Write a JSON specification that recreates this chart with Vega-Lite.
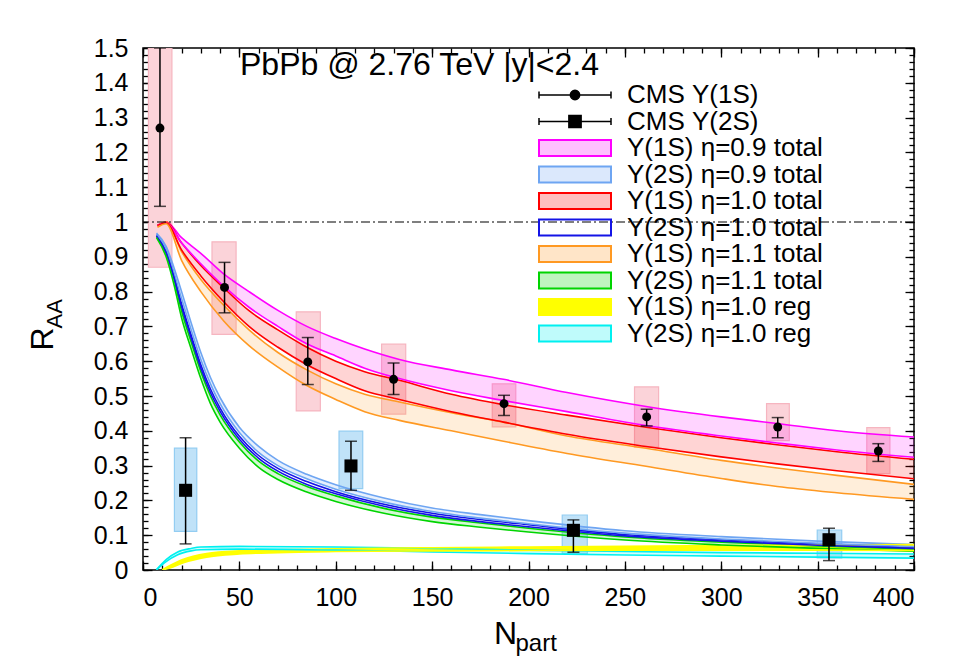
{
"$schema": "https://vega.github.io/schema/vega-lite/v6.json",
"width": 771, "height": 522,
"autosize": {"type": "none"},
"padding": {"left": 143, "top": 48, "right": 48, "bottom": 91},
"background": "white",
"config": {
  "view": {"stroke": "black", "strokeWidth": 1.5},
  "font": "Liberation Sans",
  "axis": {"domain": false, "grid": false, "tickColor": "black", "tickWidth": 1.3, "labelColor": "black", "titleColor": "black", "labelFont": "Liberation Sans", "titleFont": "Liberation Sans", "titleFontWeight": "normal"}
},
"title": {"text": "PbPb @ 2.76 TeV |y|<2.4", "anchor": "start", "frame": "group", "dx": 97, "dy": 43, "offset": -28, "fontSize": 32, "fontWeight": "normal", "font": "Liberation Sans", "color": "black", "baseline": "alphabetic"},
"datasets": {
"cms": [
{"s":"CMS Υ(1S)","x":8.8,"y":1.27,"elo":1.045,"ehi":1.5,"bx0":2.8,"bx1":15,"by0":0.87,"by1":1.5},
{"s":"CMS Υ(1S)","x":42.3,"y":0.812,"elo":0.739,"ehi":0.884,"bx0":35.8,"bx1":48.3,"by0":0.677,"by1":0.943},
{"s":"CMS Υ(1S)","x":85.5,"y":0.598,"elo":0.533,"ehi":0.668,"bx0":79.5,"bx1":92,"by0":0.457,"by1":0.742},
{"s":"CMS Υ(1S)","x":130,"y":0.548,"elo":0.504,"ehi":0.595,"bx0":123.8,"bx1":136.3,"by0":0.448,"by1":0.649},
{"s":"CMS Υ(1S)","x":187.3,"y":0.478,"elo":0.444,"ehi":0.502,"bx0":181.2,"bx1":193.4,"by0":0.411,"by1":0.535},
{"s":"CMS Υ(1S)","x":261.3,"y":0.44,"elo":0.414,"ehi":0.462,"bx0":255,"bx1":267.5,"by0":0.353,"by1":0.526},
{"s":"CMS Υ(1S)","x":329.3,"y":0.411,"elo":0.38,"ehi":0.438,"bx0":323.5,"bx1":335.3,"by0":0.372,"by1":0.478},
{"s":"CMS Υ(1S)","x":381.5,"y":0.342,"elo":0.312,"ehi":0.363,"bx0":375.5,"bx1":387.5,"by0":0.277,"by1":0.409},
{"s":"CMS Υ(2S)","x":22.1,"y":0.229,"elo":0.075,"ehi":0.38,"bx0":16.3,"bx1":27.9,"by0":0.111,"by1":0.35},
{"s":"CMS Υ(2S)","x":107.9,"y":0.299,"elo":0.229,"ehi":0.37,"bx0":101.7,"bx1":114,"by0":0.234,"by1":0.399},
{"s":"CMS Υ(2S)","x":223.3,"y":0.114,"elo":0.051,"ehi":0.144,"bx0":217.5,"bx1":230.5,"by0":0.047,"by1":0.158},
{"s":"CMS Υ(2S)","x":355.9,"y":0.087,"elo":0.027,"ehi":0.12,"bx0":349.8,"bx1":362.5,"by0":0.035,"by1":0.115}
],
"bands": [
{"s":"Υ(1S) η=0.9 total","x":7.5,"hi":0.99,"lo":0.99},
{"s":"Υ(1S) η=0.9 total","x":12,"hi":1.0,"lo":0.998},
{"s":"Υ(1S) η=0.9 total","x":20,"hi":0.955,"lo":0.94},
{"s":"Υ(1S) η=0.9 total","x":30,"hi":0.91,"lo":0.88},
{"s":"Υ(1S) η=0.9 total","x":42,"hi":0.85,"lo":0.815},
{"s":"Υ(1S) η=0.9 total","x":55,"hi":0.8,"lo":0.755},
{"s":"Υ(1S) η=0.9 total","x":70,"hi":0.746,"lo":0.7},
{"s":"Υ(1S) η=0.9 total","x":85,"hi":0.7,"lo":0.65},
{"s":"Υ(1S) η=0.9 total","x":100,"hi":0.665,"lo":0.615},
{"s":"Υ(1S) η=0.9 total","x":115,"hi":0.635,"lo":0.58},
{"s":"Υ(1S) η=0.9 total","x":133,"hi":0.605,"lo":0.55},
{"s":"Υ(1S) η=0.9 total","x":160,"hi":0.575,"lo":0.515},
{"s":"Υ(1S) η=0.9 total","x":187,"hi":0.548,"lo":0.487},
{"s":"Υ(1S) η=0.9 total","x":220,"hi":0.51,"lo":0.455},
{"s":"Υ(1S) η=0.9 total","x":261,"hi":0.47,"lo":0.415},
{"s":"Υ(1S) η=0.9 total","x":300,"hi":0.44,"lo":0.385},
{"s":"Υ(1S) η=0.9 total","x":329,"hi":0.421,"lo":0.365},
{"s":"Υ(1S) η=0.9 total","x":360,"hi":0.4,"lo":0.345},
{"s":"Υ(1S) η=0.9 total","x":400,"hi":0.382,"lo":0.324},
{"s":"Υ(1S) η=1.0 total","x":7.5,"hi":0.99,"lo":0.99},
{"s":"Υ(1S) η=1.0 total","x":12,"hi":1.0,"lo":0.997},
{"s":"Υ(1S) η=1.0 total","x":20,"hi":0.94,"lo":0.92},
{"s":"Υ(1S) η=1.0 total","x":30,"hi":0.875,"lo":0.845},
{"s":"Υ(1S) η=1.0 total","x":42,"hi":0.81,"lo":0.77},
{"s":"Υ(1S) η=1.0 total","x":55,"hi":0.745,"lo":0.7},
{"s":"Υ(1S) η=1.0 total","x":70,"hi":0.69,"lo":0.64},
{"s":"Υ(1S) η=1.0 total","x":85,"hi":0.64,"lo":0.59},
{"s":"Υ(1S) η=1.0 total","x":100,"hi":0.6,"lo":0.55},
{"s":"Υ(1S) η=1.0 total","x":115,"hi":0.57,"lo":0.515},
{"s":"Υ(1S) η=1.0 total","x":133,"hi":0.545,"lo":0.49},
{"s":"Υ(1S) η=1.0 total","x":160,"hi":0.505,"lo":0.455},
{"s":"Υ(1S) η=1.0 total","x":187,"hi":0.475,"lo":0.425},
{"s":"Υ(1S) η=1.0 total","x":220,"hi":0.445,"lo":0.39},
{"s":"Υ(1S) η=1.0 total","x":261,"hi":0.41,"lo":0.355},
{"s":"Υ(1S) η=1.0 total","x":300,"hi":0.38,"lo":0.325},
{"s":"Υ(1S) η=1.0 total","x":329,"hi":0.36,"lo":0.305},
{"s":"Υ(1S) η=1.0 total","x":360,"hi":0.34,"lo":0.285},
{"s":"Υ(1S) η=1.0 total","x":400,"hi":0.318,"lo":0.262},
{"s":"Υ(1S) η=1.1 total","x":7.5,"hi":0.99,"lo":0.985},
{"s":"Υ(1S) η=1.1 total","x":12,"hi":1.0,"lo":0.995},
{"s":"Υ(1S) η=1.1 total","x":20,"hi":0.915,"lo":0.89},
{"s":"Υ(1S) η=1.1 total","x":30,"hi":0.835,"lo":0.8},
{"s":"Υ(1S) η=1.1 total","x":42,"hi":0.76,"lo":0.715},
{"s":"Υ(1S) η=1.1 total","x":55,"hi":0.69,"lo":0.645},
{"s":"Υ(1S) η=1.1 total","x":70,"hi":0.625,"lo":0.583},
{"s":"Υ(1S) η=1.1 total","x":85,"hi":0.575,"lo":0.53},
{"s":"Υ(1S) η=1.1 total","x":100,"hi":0.535,"lo":0.49},
{"s":"Υ(1S) η=1.1 total","x":115,"hi":0.505,"lo":0.455},
{"s":"Υ(1S) η=1.1 total","x":133,"hi":0.483,"lo":0.43},
{"s":"Υ(1S) η=1.1 total","x":160,"hi":0.452,"lo":0.4},
{"s":"Υ(1S) η=1.1 total","x":187,"hi":0.425,"lo":0.37},
{"s":"Υ(1S) η=1.1 total","x":220,"hi":0.385,"lo":0.335},
{"s":"Υ(1S) η=1.1 total","x":261,"hi":0.35,"lo":0.298},
{"s":"Υ(1S) η=1.1 total","x":300,"hi":0.315,"lo":0.263},
{"s":"Υ(1S) η=1.1 total","x":329,"hi":0.293,"lo":0.24},
{"s":"Υ(1S) η=1.1 total","x":360,"hi":0.272,"lo":0.222},
{"s":"Υ(1S) η=1.1 total","x":400,"hi":0.246,"lo":0.203},
{"s":"Υ(2S) η=0.9 total","x":7,"hi":0.968,"lo":0.964},
{"s":"Υ(2S) η=0.9 total","x":12,"hi":0.93,"lo":0.922},
{"s":"Υ(2S) η=0.9 total","x":16,"hi":0.87,"lo":0.855},
{"s":"Υ(2S) η=0.9 total","x":20,"hi":0.8,"lo":0.78},
{"s":"Υ(2S) η=0.9 total","x":25,"hi":0.71,"lo":0.69},
{"s":"Υ(2S) η=0.9 total","x":30,"hi":0.625,"lo":0.605},
{"s":"Υ(2S) η=0.9 total","x":35,"hi":0.553,"lo":0.535},
{"s":"Υ(2S) η=0.9 total","x":40,"hi":0.495,"lo":0.478},
{"s":"Υ(2S) η=0.9 total","x":50,"hi":0.41,"lo":0.395},
{"s":"Υ(2S) η=0.9 total","x":60,"hi":0.355,"lo":0.338},
{"s":"Υ(2S) η=0.9 total","x":70,"hi":0.315,"lo":0.3},
{"s":"Υ(2S) η=0.9 total","x":85,"hi":0.275,"lo":0.262},
{"s":"Υ(2S) η=0.9 total","x":100,"hi":0.245,"lo":0.232},
{"s":"Υ(2S) η=0.9 total","x":125,"hi":0.207,"lo":0.195},
{"s":"Υ(2S) η=0.9 total","x":150,"hi":0.178,"lo":0.168},
{"s":"Υ(2S) η=0.9 total","x":175,"hi":0.159,"lo":0.149},
{"s":"Υ(2S) η=0.9 total","x":200,"hi":0.142,"lo":0.133},
{"s":"Υ(2S) η=0.9 total","x":250,"hi":0.113,"lo":0.106},
{"s":"Υ(2S) η=0.9 total","x":300,"hi":0.096,"lo":0.089},
{"s":"Υ(2S) η=0.9 total","x":350,"hi":0.083,"lo":0.077},
{"s":"Υ(2S) η=0.9 total","x":400,"hi":0.073,"lo":0.067},
{"s":"Υ(2S) η=1.0 total","x":7,"hi":0.963,"lo":0.96},
{"s":"Υ(2S) η=1.0 total","x":12,"hi":0.918,"lo":0.912},
{"s":"Υ(2S) η=1.0 total","x":16,"hi":0.85,"lo":0.842},
{"s":"Υ(2S) η=1.0 total","x":20,"hi":0.765,"lo":0.757},
{"s":"Υ(2S) η=1.0 total","x":25,"hi":0.675,"lo":0.666},
{"s":"Υ(2S) η=1.0 total","x":30,"hi":0.59,"lo":0.58},
{"s":"Υ(2S) η=1.0 total","x":35,"hi":0.52,"lo":0.51},
{"s":"Υ(2S) η=1.0 total","x":40,"hi":0.465,"lo":0.456},
{"s":"Υ(2S) η=1.0 total","x":50,"hi":0.384,"lo":0.376},
{"s":"Υ(2S) η=1.0 total","x":60,"hi":0.329,"lo":0.321},
{"s":"Υ(2S) η=1.0 total","x":70,"hi":0.292,"lo":0.284},
{"s":"Υ(2S) η=1.0 total","x":85,"hi":0.254,"lo":0.246},
{"s":"Υ(2S) η=1.0 total","x":100,"hi":0.225,"lo":0.219},
{"s":"Υ(2S) η=1.0 total","x":125,"hi":0.189,"lo":0.183},
{"s":"Υ(2S) η=1.0 total","x":150,"hi":0.163,"lo":0.157},
{"s":"Υ(2S) η=1.0 total","x":175,"hi":0.145,"lo":0.139},
{"s":"Υ(2S) η=1.0 total","x":200,"hi":0.13,"lo":0.124},
{"s":"Υ(2S) η=1.0 total","x":250,"hi":0.102,"lo":0.098},
{"s":"Υ(2S) η=1.0 total","x":300,"hi":0.087,"lo":0.083},
{"s":"Υ(2S) η=1.0 total","x":350,"hi":0.075,"lo":0.071},
{"s":"Υ(2S) η=1.0 total","x":400,"hi":0.066,"lo":0.062},
{"s":"Υ(2S) η=1.1 total","x":7,"hi":0.96,"lo":0.955},
{"s":"Υ(2S) η=1.1 total","x":12,"hi":0.91,"lo":0.9},
{"s":"Υ(2S) η=1.1 total","x":16,"hi":0.838,"lo":0.822},
{"s":"Υ(2S) η=1.1 total","x":20,"hi":0.745,"lo":0.725},
{"s":"Υ(2S) η=1.1 total","x":25,"hi":0.655,"lo":0.635},
{"s":"Υ(2S) η=1.1 total","x":30,"hi":0.57,"lo":0.55},
{"s":"Υ(2S) η=1.1 total","x":35,"hi":0.5,"lo":0.478},
{"s":"Υ(2S) η=1.1 total","x":40,"hi":0.446,"lo":0.425},
{"s":"Υ(2S) η=1.1 total","x":50,"hi":0.368,"lo":0.35},
{"s":"Υ(2S) η=1.1 total","x":60,"hi":0.313,"lo":0.295},
{"s":"Υ(2S) η=1.1 total","x":70,"hi":0.277,"lo":0.26},
{"s":"Υ(2S) η=1.1 total","x":85,"hi":0.24,"lo":0.224},
{"s":"Υ(2S) η=1.1 total","x":100,"hi":0.213,"lo":0.197},
{"s":"Υ(2S) η=1.1 total","x":125,"hi":0.177,"lo":0.163},
{"s":"Υ(2S) η=1.1 total","x":150,"hi":0.152,"lo":0.139},
{"s":"Υ(2S) η=1.1 total","x":175,"hi":0.135,"lo":0.123},
{"s":"Υ(2S) η=1.1 total","x":200,"hi":0.12,"lo":0.109},
{"s":"Υ(2S) η=1.1 total","x":250,"hi":0.095,"lo":0.086},
{"s":"Υ(2S) η=1.1 total","x":300,"hi":0.08,"lo":0.072},
{"s":"Υ(2S) η=1.1 total","x":350,"hi":0.069,"lo":0.062},
{"s":"Υ(2S) η=1.1 total","x":400,"hi":0.06,"lo":0.054},
{"s":"Υ(2S) η=1.0 reg","x":7,"hi":0.001,"lo":0.0},
{"s":"Υ(2S) η=1.0 reg","x":12,"hi":0.03,"lo":0.024},
{"s":"Υ(2S) η=1.0 reg","x":18,"hi":0.052,"lo":0.044},
{"s":"Υ(2S) η=1.0 reg","x":25,"hi":0.062,"lo":0.055},
{"s":"Υ(2S) η=1.0 reg","x":30,"hi":0.066,"lo":0.058},
{"s":"Υ(2S) η=1.0 reg","x":50,"hi":0.068,"lo":0.06},
{"s":"Υ(2S) η=1.0 reg","x":100,"hi":0.066,"lo":0.057},
{"s":"Υ(2S) η=1.0 reg","x":150,"hi":0.062,"lo":0.052},
{"s":"Υ(2S) η=1.0 reg","x":200,"hi":0.057,"lo":0.047},
{"s":"Υ(2S) η=1.0 reg","x":250,"hi":0.053,"lo":0.043},
{"s":"Υ(2S) η=1.0 reg","x":300,"hi":0.05,"lo":0.04},
{"s":"Υ(2S) η=1.0 reg","x":350,"hi":0.048,"lo":0.037},
{"s":"Υ(2S) η=1.0 reg","x":400,"hi":0.046,"lo":0.034},
{"s":"Υ(1S) η=1.0 reg","x":10,"hi":0.001,"lo":0.0},
{"s":"Υ(1S) η=1.0 reg","x":14,"hi":0.013,"lo":0.006},
{"s":"Υ(1S) η=1.0 reg","x":21,"hi":0.031,"lo":0.021},
{"s":"Υ(1S) η=1.0 reg","x":33,"hi":0.047,"lo":0.037},
{"s":"Υ(1S) η=1.0 reg","x":50,"hi":0.055,"lo":0.046},
{"s":"Υ(1S) η=1.0 reg","x":70,"hi":0.058,"lo":0.05},
{"s":"Υ(1S) η=1.0 reg","x":100,"hi":0.061,"lo":0.053},
{"s":"Υ(1S) η=1.0 reg","x":150,"hi":0.064,"lo":0.055},
{"s":"Υ(1S) η=1.0 reg","x":200,"hi":0.066,"lo":0.056},
{"s":"Υ(1S) η=1.0 reg","x":250,"hi":0.068,"lo":0.057},
{"s":"Υ(1S) η=1.0 reg","x":300,"hi":0.07,"lo":0.057},
{"s":"Υ(1S) η=1.0 reg","x":350,"hi":0.072,"lo":0.057},
{"s":"Υ(1S) η=1.0 reg","x":400,"hi":0.073,"lo":0.056}
]
},
"resolve": {"axis": {"x": "independent", "y": "independent"}},
"layer": [
{
 "data": {"name": "cms"},
 "mark": {"type": "rect", "strokeWidth": 1.2, "clip": true},
 "encoding": {
  "x": {"field": "bx0", "type": "quantitative", "scale": {"domain": [0, 400], "nice": false, "zero": false}, "axis": null},
  "x2": {"field": "bx1"},
  "y": {"field": "by0", "type": "quantitative", "scale": {"domain": [0, 1.5], "nice": false, "zero": false}, "axis": null},
  "y2": {"field": "by1"},
  "fill": {"condition": {"test": "datum.s === 'CMS Υ(1S)'", "value": "#fbd3d9"}, "value": "#c0e2f8"},
  "stroke": {"condition": {"test": "datum.s === 'CMS Υ(1S)'", "value": "#f6b5c0"}, "value": "#93cdf2"}
 }
},
{
 "data": {"name": "bands"},
 "mark": {"type": "area", "interpolate": "monotone", "clip": true},
 "encoding": {
  "x": {"field": "x", "type": "quantitative", "axis": null},
  "y": {"field": "hi", "type": "quantitative", "stack": null, "axis": null},
  "y2": {"field": "lo"},
  "color": {"field": "s", "type": "nominal",
   "scale": {"domain": ["CMS Υ(1S)", "CMS Υ(2S)", "Υ(1S) η=0.9 total", "Υ(2S) η=0.9 total", "Υ(1S) η=1.0 total", "Υ(2S) η=1.0 total", "Υ(1S) η=1.1 total", "Υ(2S) η=1.1 total", "Υ(1S) η=1.0 reg", "Υ(2S) η=1.0 reg"],
             "range": ["#000000", "#000000", "#ff00ff", "#6ea5f2", "#ff0000", "#1414e6", "#ff9922", "#00d400", "#ffff00", "#00f0f0"]},
   "legend": {
    "orient": "none", "legendX": 419, "legendY": 34, "title": null, "padding": 0,
    "symbolSize": 5184, "symbolType": "M-1,-0.22H1V0.22H-1Z", "symbolStrokeWidth": 2,
    "labelFontSize": 26, "labelFont": "Liberation Sans", "labelColor": "black", "labelOffset": 39, "labelLimit": 400,
    "rowPadding": 0.5,
    "encode": {"symbols": {"update": {
      "shape": {"signal": "datum.value == 'CMS Υ(1S)' ? 'M-1,0H1M-1,-0.1V0.1M1,-0.1V0.1M-0.13,0A0.13,0.13,0,1,1,0.13,0A0.13,0.13,0,1,1,-0.13,0Z' : datum.value == 'CMS Υ(2S)' ? 'M-1,0H1M-1,-0.1V0.1M1,-0.1V0.1M-0.17,-0.17H0.17V0.17H-0.17Z' : 'M-1,-0.22H1V0.22H-1Z'"},
      "fillOpacity": {"signal": "(datum.value == 'CMS Υ(1S)' || datum.value == 'CMS Υ(2S)' || datum.value == 'Υ(1S) η=1.0 reg') ? 1 : datum.value == 'Υ(2S) η=1.0 total' ? 0 : 0.25"},
      "strokeWidth": {"signal": "(datum.value == 'CMS Υ(1S)' || datum.value == 'CMS Υ(2S)') ? 1.5 : 2"},
      "opacity": {"value": 1},
      "strokeOpacity": {"value": 1}
    }}}
   }
  },
  "fillOpacity": {"condition": [{"test": "datum.s === 'Υ(1S) η=1.0 reg'", "value": 1}, {"test": "datum.s === 'Υ(2S) η=1.0 total'", "value": 0}], "value": 0.17}
 }
},
{
 "data": {"name": "bands"},
 "mark": {"type": "line", "interpolate": "monotone", "strokeWidth": 1.6, "clip": true},
 "encoding": {
  "x": {"field": "x", "type": "quantitative", "axis": null},
  "y": {"field": "hi", "type": "quantitative", "axis": null},
  "color": {"field": "s", "type": "nominal", "legend": null}
 }
},
{
 "data": {"name": "bands"},
 "mark": {"type": "line", "interpolate": "monotone", "strokeWidth": 1.6, "clip": true},
 "encoding": {
  "x": {"field": "x", "type": "quantitative", "axis": null},
  "y": {"field": "lo", "type": "quantitative", "axis": null},
  "color": {"field": "s", "type": "nominal", "legend": null}
 }
},
{
 "data": {"values": [{}]},
 "mark": {"type": "rule", "strokeDash": [9, 3, 2, 3], "strokeWidth": 1.2, "color": "black"},
 "encoding": {"y": {"datum": 1, "type": "quantitative", "axis": null}}
},
{
 "data": {"name": "cms"},
 "mark": {"type": "rule", "strokeWidth": 1.5, "color": "black", "clip": true},
 "encoding": {
  "x": {"field": "x", "type": "quantitative", "axis": null},
  "y": {"field": "elo", "type": "quantitative", "axis": null},
  "y2": {"field": "ehi"}
 }
},
{
 "data": {"name": "cms"},
 "transform": [{"fold": ["elo", "ehi"], "as": ["k", "v"]}],
 "mark": {"type": "tick", "orient": "horizontal", "size": 12, "thickness": 1.5, "color": "black", "clip": true},
 "encoding": {
  "x": {"field": "x", "type": "quantitative", "axis": null},
  "y": {"field": "v", "type": "quantitative", "axis": null}
 }
},
{
 "data": {"name": "cms"},
 "mark": {"type": "point", "filled": true, "opacity": 1, "color": "black"},
 "encoding": {
  "x": {"field": "x", "type": "quantitative", "axis": null},
  "y": {"field": "y", "type": "quantitative", "axis": null},
  "shape": {"field": "s", "type": "nominal", "scale": {"domain": ["CMS Υ(1S)", "CMS Υ(2S)"], "range": ["circle", "square"]}, "legend": null},
  "size": {"condition": {"test": "datum.s === 'CMS Υ(1S)'", "value": 80}, "value": 170}
 }
},
{
 "data": {"values": [{}]},
 "mark": {"type": "rule", "opacity": 0},
 "encoding": {"x": {"datum": 0, "type": "quantitative", "axis": {"orient": "bottom", "values": [0, 50, 100, 150, 200, 250, 300, 350, 400], "format": "d", "tickSize": -9, "labelFontSize": 25, "labelPadding": 24, "title": "N", "titleFontSize": 32, "titleX": 362, "titleY": 73, "titleAlign": "center", "titleBaseline": "alphabetic", "titleAngle": 0}}}
},
{
 "data": {"values": [{}]},
 "mark": {"type": "rule", "opacity": 0},
 "encoding": {"x": {"datum": 0, "type": "quantitative", "axis": {"orient": "bottom", "values": [0,10,20,30,40,50,60,70,80,90,100,110,120,130,140,150,160,170,180,190,200,210,220,230,240,250,260,270,280,290,300,310,320,330,340,350,360,370,380,390,400], "tickSize": -5, "labels": false, "title": "part", "titleFontSize": 24, "titleX": 372, "titleY": 80, "titleAlign": "left", "titleBaseline": "alphabetic", "titleAngle": 0}}}
},
{
 "data": {"values": [{}]},
 "mark": {"type": "rule", "opacity": 0},
 "encoding": {"x": {"datum": 0, "type": "quantitative", "axis": {"orient": "top", "values": [0, 50, 100, 150, 200, 250, 300, 350, 400], "tickSize": -9, "labels": false, "title": null}}}
},
{
 "data": {"values": [{}]},
 "mark": {"type": "rule", "opacity": 0},
 "encoding": {"x": {"datum": 0, "type": "quantitative", "axis": {"orient": "top", "values": [0,10,20,30,40,50,60,70,80,90,100,110,120,130,140,150,160,170,180,190,200,210,220,230,240,250,260,270,280,290,300,310,320,330,340,350,360,370,380,390,400], "tickSize": -5, "labels": false, "title": null}}}
},
{
 "data": {"values": [{}]},
 "mark": {"type": "rule", "opacity": 0},
 "encoding": {"y": {"datum": 0, "type": "quantitative", "axis": {"orient": "left", "values": [0,0.1,0.2,0.3,0.4,0.5,0.6,0.7,0.8,0.9,1,1.1,1.2,1.3,1.4,1.5], "format": "~g", "tickSize": -9, "labelFontSize": 25, "labelPadding": 24, "title": "R", "titleFontSize": 32, "titleX": -91, "titleY": 302, "titleAlign": "left", "titleBaseline": "alphabetic", "titleAngle": -90}}}
},
{
 "data": {"values": [{}]},
 "mark": {"type": "rule", "opacity": 0},
 "encoding": {"y": {"datum": 0, "type": "quantitative", "axis": {"orient": "left", "values": [0,0.02,0.04,0.06,0.08,0.1,0.12,0.14,0.16,0.18,0.2,0.22,0.24,0.26,0.28,0.3,0.32,0.34,0.36,0.38,0.4,0.42,0.44,0.46,0.48,0.5,0.52,0.54,0.56,0.58,0.6,0.62,0.64,0.66,0.68,0.7,0.72,0.74,0.76,0.78,0.8,0.82,0.84,0.86,0.88,0.9,0.92,0.94,0.96,0.98,1,1.02,1.04,1.06,1.08,1.1,1.12,1.14,1.16,1.18,1.2,1.22,1.24,1.26,1.28,1.3,1.32,1.34,1.36,1.38,1.4,1.42,1.44,1.46,1.48,1.5], "tickSize": -5, "labels": false, "title": "AA", "titleFontSize": 22, "titleX": -82, "titleY": 280, "titleAlign": "left", "titleBaseline": "alphabetic", "titleAngle": -90}}}
},
{
 "data": {"values": [{}]},
 "mark": {"type": "rule", "opacity": 0},
 "encoding": {"y": {"datum": 0, "type": "quantitative", "axis": {"orient": "right", "values": [0,0.1,0.2,0.3,0.4,0.5,0.6,0.7,0.8,0.9,1,1.1,1.2,1.3,1.4,1.5], "tickSize": -9, "labels": false, "title": null}}}
},
{
 "data": {"values": [{}]},
 "mark": {"type": "rule", "opacity": 0},
 "encoding": {"y": {"datum": 0, "type": "quantitative", "axis": {"orient": "right", "values": [0,0.02,0.04,0.06,0.08,0.1,0.12,0.14,0.16,0.18,0.2,0.22,0.24,0.26,0.28,0.3,0.32,0.34,0.36,0.38,0.4,0.42,0.44,0.46,0.48,0.5,0.52,0.54,0.56,0.58,0.6,0.62,0.64,0.66,0.68,0.7,0.72,0.74,0.76,0.78,0.8,0.82,0.84,0.86,0.88,0.9,0.92,0.94,0.96,0.98,1,1.02,1.04,1.06,1.08,1.1,1.12,1.14,1.16,1.18,1.2,1.22,1.24,1.26,1.28,1.3,1.32,1.34,1.36,1.38,1.4,1.42,1.44,1.46,1.48,1.5], "tickSize": -5, "labels": false, "title": null}}}
}
]
}
